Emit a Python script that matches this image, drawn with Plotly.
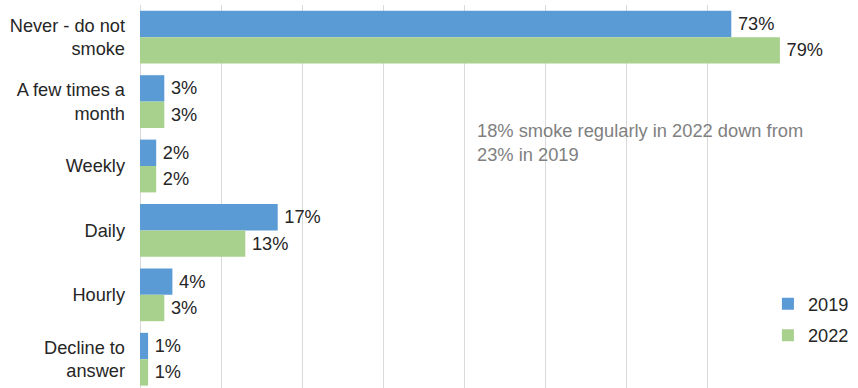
import plotly.graph_objects as go

categories = ["Never - do not<br>smoke", "A few times a<br>month", "Weekly", "Daily", "Hourly", "Decline to<br>answer"]
values_2019 = [73, 3, 2, 17, 4, 1]
values_2022 = [79, 3, 2, 13, 3, 1]
series_names = ["2019", "2022"]
note = "18% smoke regularly in 2022 down from<br>23% in 2019"

FONT = "Liberation Sans, Arial, sans-serif"
fig = go.Figure()
for name, vals, color, grp in [(series_names[0], values_2019, "#5B9BD5", "a"),
                               (series_names[1], values_2022, "#A9D18E", "b")]:
    fig.add_trace(go.Bar(
        y=categories, x=vals, name=name, orientation="h",
        marker=dict(color=color, line=dict(width=0)),
        text=[f"\u2009{v}%" for v in vals], textposition="outside",
        textfont=dict(size=18.2, color="#262626", family=FONT),
        cliponaxis=False, legendgroup=grp,
    ))

fig.add_annotation(
    x=41.3, y=1.64, xref="x", yref="y", yanchor="middle",
    text=note, showarrow=False, xanchor="left", align="left",
    font=dict(size=18.3, color="#808080", family=FONT),
)

fig.update_layout(
    width=858, height=388,
    margin=dict(l=140, r=70, t=5, b=0, autoexpand=False),
    paper_bgcolor="white", plot_bgcolor="white",
    barmode="group", bargap=0.18, bargroupgap=0,
    font=dict(family=FONT, size=18.2, color="#262626"),
    showlegend=True,
    legend=dict(x=0.969, xanchor="left", y=0.178, yanchor="middle",
                font=dict(size=18.2, color="#262626"),
                tracegroupgap=5, itemwidth=30, bgcolor="rgba(0,0,0,0)"),
    xaxis=dict(range=[0, 80], dtick=10, showticklabels=False,
               showgrid=True, gridcolor="#d9d9d9", gridwidth=1,
               zeroline=True, zerolinecolor="#d9d9d9", zerolinewidth=1,
               showline=False, ticks="", automargin=False),
    yaxis=dict(type="category", range=[5.447, -0.5], showgrid=False,
               ticks="", ticklabelstandoff=14, showline=False, automargin=False,
               tickfont=dict(size=18.2, color="#262626")),
)
fig.write_html("out.html", config={"displayModeBar": False},
               post_script="document.body.style.margin='0';document.body.style.overflow='hidden';")
